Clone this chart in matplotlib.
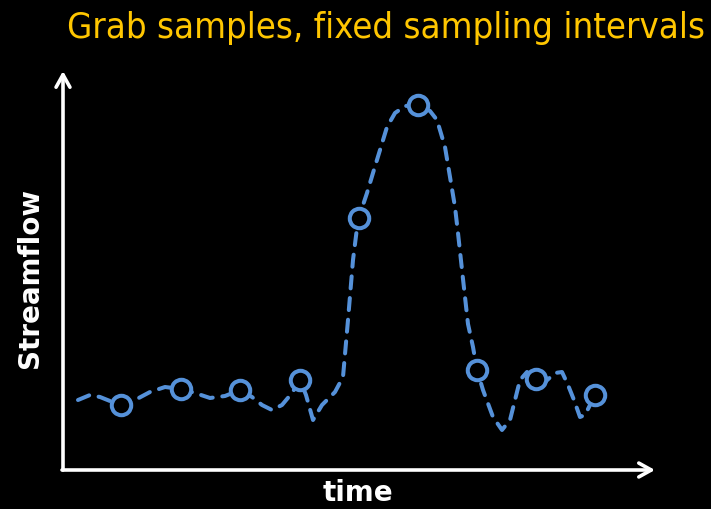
import matplotlib
matplotlib.use("Agg")
import matplotlib.pyplot as plt
from matplotlib import font_manager

# Continuous streamflow curve (time, flow) (flow up = larger)
curve_t = [78, 90, 100, 110, 121, 135, 150, 165, 181, 195, 210, 225, 240, 252, 262,
           272, 282, 292, 300, 306, 313, 322, 335, 343, 348, 353, 358, 367, 373, 380,
           387, 395, 405, 418, 430, 437, 445, 450, 455, 458, 463, 468, 473, 477, 483,
           493, 502, 510, 515, 520, 527, 535, 545, 555, 562, 568, 574, 580, 585, 595]
curve_q = [109, 114, 112, 108, 104, 109, 117, 122, 120, 116, 111, 113, 119, 112, 104,
           99, 104, 116, 129, 114, 89, 104, 117, 132, 189, 249, 289, 316, 336, 359,
           382, 396, 403, 404, 398, 389, 362, 332, 302, 276, 230, 185, 162, 139, 119,
           92, 79, 89, 109, 129, 137, 131, 127, 136, 137, 124, 109, 92, 94, 114]

# Grab samples at fixed intervals
sample_t = [121, 181, 240, 300, 359, 418, 477, 536, 595]
sample_q = [104, 120, 119, 129, 291, 404, 139, 130, 114]

title_text = "Grab samples, fixed sampling intervals"
ylabel_text = "Streamflow"
xlabel_text = "time"

condensed = any(f.name == "DejaVu Sans" and str(f.stretch) in ("condensed", "semi-condensed")
                for f in font_manager.fontManager.ttflist)
title_kw = dict(family="DejaVu Sans", fontstretch="condensed") if condensed else dict(family="Roboto")

blue = "#5591D9"
W, H = 711, 509

fig = plt.figure(figsize=(W / 100, H / 100), dpi=100, facecolor="black")
ax = fig.add_axes([0, 0, 1, 1])
ax.set_facecolor("black")
ax.set_xlim(0, W)
ax.set_ylim(0, H)
ax.axis("off")

# axes arrows
ax.annotate("", xy=(63, H - 71), xytext=(63, H - 470),
            arrowprops=dict(arrowstyle="->,head_length=0.9,head_width=0.5",
                            color="white", lw=2.6, shrinkA=0, shrinkB=0))
ax.annotate("", xy=(655, H - 470), xytext=(62, H - 470),
            arrowprops=dict(arrowstyle="->,head_length=0.9,head_width=0.5",
                            color="white", lw=2.6, shrinkA=0, shrinkB=0))

ax.plot(curve_t, curve_q, color=blue, lw=2.9, linestyle=(0, (3.0, 2.4)),
        dash_capstyle="round", solid_joinstyle="round", zorder=2)
ax.plot(sample_t, sample_q, linestyle="none", marker="o", markersize=14,
        markerfacecolor="black", markeredgecolor=blue, markeredgewidth=2.9, zorder=3)

title = ax.text(705, H - 28, title_text, color="#FFC600", fontsize=27,
                ha="right", va="center", **title_kw)
fig.canvas.draw()
wpx = title.get_window_extent().width
title.set_fontsize(min(27, 27 * 635 / wpx))

ax.text(30, H - 278, ylabel_text, color="white", fontsize=20, fontweight="bold",
        rotation=90, ha="center", va="center")
ax.text(358, H - 493, xlabel_text, color="white", fontsize=20, fontweight="bold",
        ha="center", va="center")

fig.savefig("out.png", dpi=100, facecolor="black")
